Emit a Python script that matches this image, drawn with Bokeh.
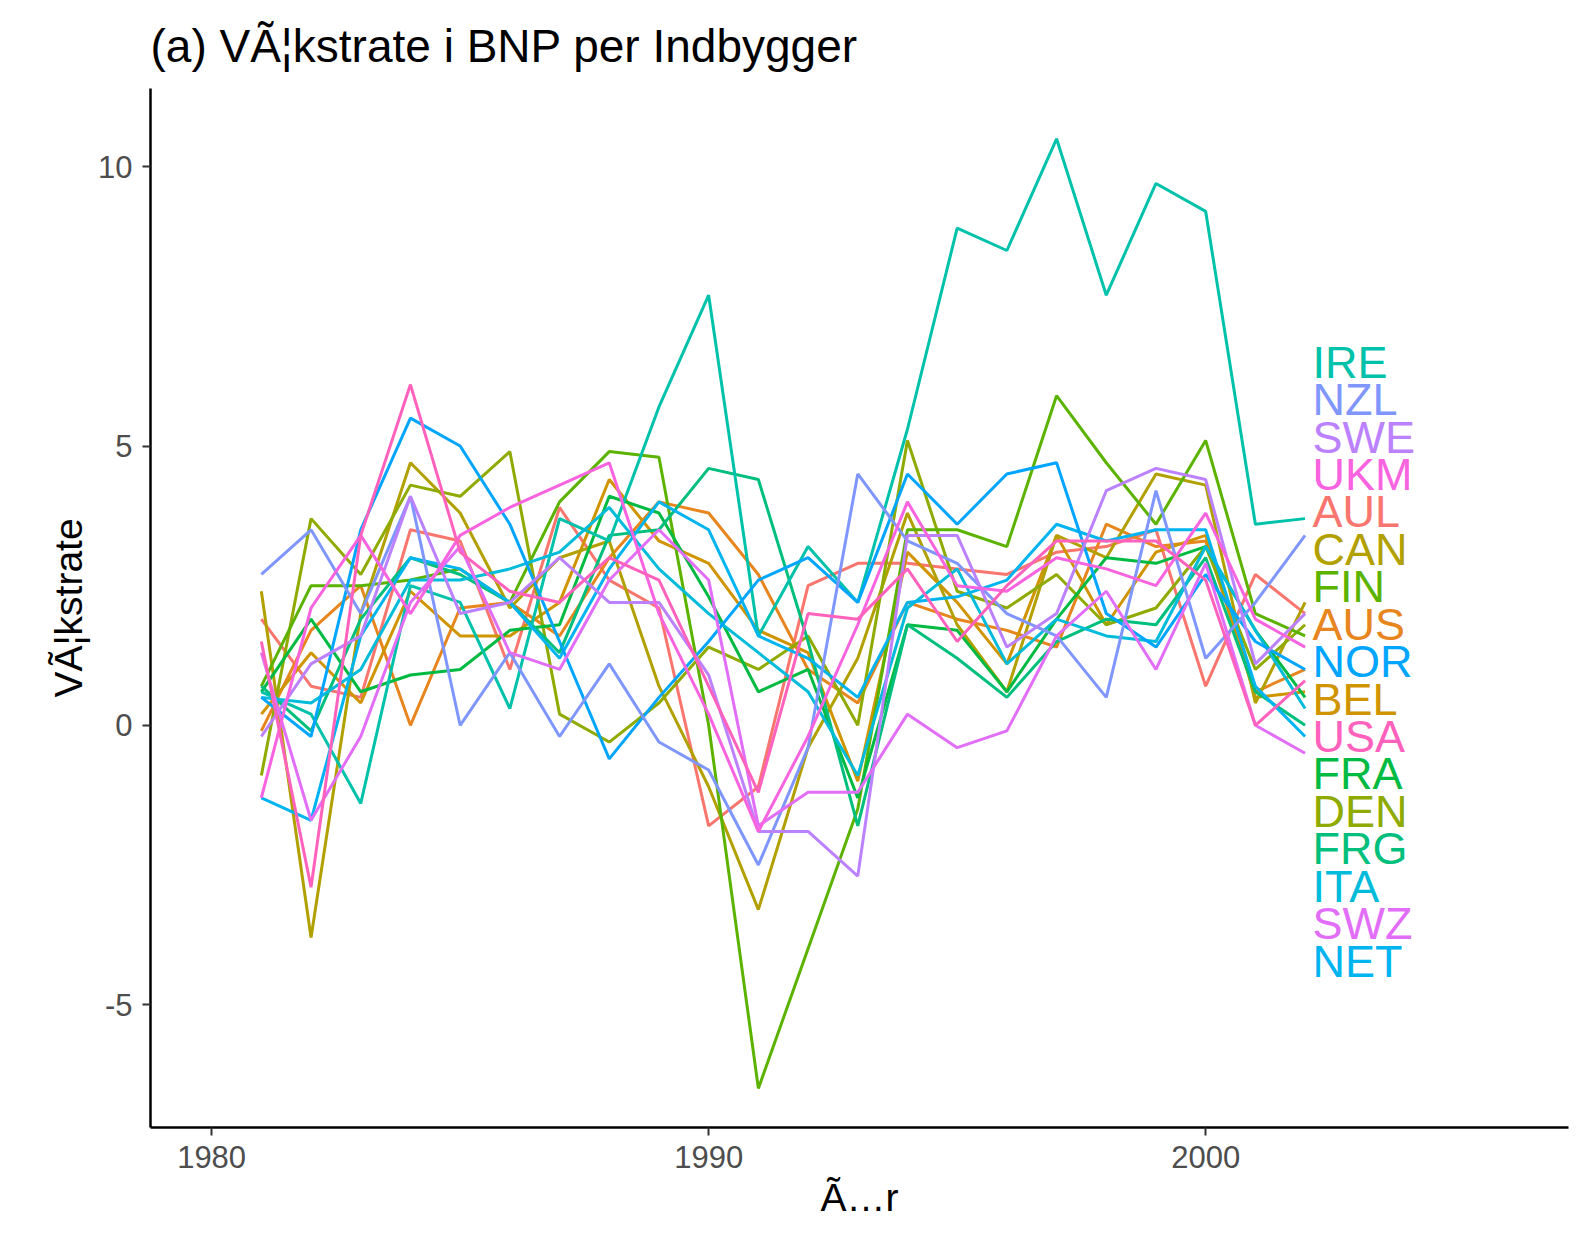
from bokeh.plotting import figure
from bokeh.embed import file_html
from bokeh.resources import INLINE
from bokeh.models import Range1d, FixedTicker, CustomJSTickFormatter
from bokeh.core.properties import value

years = list(range(1981, 2003))

series = {
    "AUL": [1.9, 0.7, 0.5, 3.5, 3.3, 1.0, 3.9, 2.6, 2.1, -1.8, -1.1, 2.5, 2.9, 2.9, 2.8, 2.7, 3.1, 3.2, 3.5, 0.7, 2.7, 2.0],
    "AUS": [-0.1, 1.7, 2.5, 0.0, 2.1, 2.2, 1.6, 3.0, 4.0, 3.8, 2.7, 1.0, 0.4, 2.2, 1.9, 1.7, 1.4, 3.6, 3.2, 3.3, 0.6, 1.0],
    "BEL": [0.2, 1.3, 0.4, 2.4, 1.6, 1.6, 2.2, 4.4, 3.3, 2.9, 1.7, 1.3, -1.0, 3.1, 2.2, 1.1, 3.4, 1.8, 3.1, 3.4, 0.5, 0.6],
    "CAN": [2.4, -3.8, 2.0, 4.7, 3.8, 2.1, 3.0, 3.3, 0.7, -1.1, -3.3, -0.4, 1.2, 3.8, 1.8, 0.6, 3.4, 3.0, 4.5, 4.3, 0.4, 2.2],
    "DEN": [-0.9, 3.7, 2.7, 4.3, 4.1, 4.9, 0.2, -0.3, 0.4, 1.4, 1.0, 1.6, 0.0, 5.1, 2.4, 2.1, 2.7, 1.8, 2.1, 3.2, 1.0, 1.8],
    "FIN": [0.7, 2.5, 2.5, 2.6, 2.8, 2.2, 4.0, 4.9, 4.8, 0.0, -6.5, -4.0, -1.5, 3.5, 3.5, 3.2, 5.9, 4.7, 3.6, 5.1, 2.0, 1.6],
    "FRA": [0.6, 1.9, 0.6, 0.9, 1.0, 1.7, 1.8, 4.1, 3.8, 2.3, 0.6, 1.0, -1.3, 1.8, 1.7, 0.6, 1.9, 3.0, 2.9, 3.2, 1.7, 0.5],
    "FRG": [0.7, -0.1, 1.9, 3.0, 2.7, 2.2, 1.3, 3.4, 3.5, 4.6, 4.4, 1.5, -1.8, 1.8, 1.2, 0.5, 1.5, 1.9, 1.8, 3.0, 0.6, 0.0],
    "IRE": [0.6, 0.2, -1.4, 2.5, 2.2, 0.3, 3.7, 3.3, 5.7, 7.7, 1.6, 3.2, 2.2, 5.3, 8.9, 8.5, 10.5, 7.7, 9.7, 9.2, 3.6, 3.7],
    "ITA": [0.5, 0.4, 1.0, 2.6, 2.6, 2.8, 3.1, 3.9, 2.8, 2.0, 1.3, 0.6, -0.9, 2.1, 2.8, 1.1, 1.9, 1.6, 1.5, 3.2, 1.7, 0.3],
    "NET": [-1.3, -1.7, 1.6, 3.0, 2.8, 2.2, 1.2, 2.8, 4.0, 3.5, 1.6, 1.2, 0.5, 2.2, 2.3, 2.6, 3.6, 3.3, 3.5, 3.5, 0.7, -0.2],
    "NOR": [0.5, -0.2, 3.5, 5.5, 5.0, 3.6, 1.5, -0.6, 0.5, 1.5, 2.6, 3.0, 2.2, 4.5, 3.6, 4.5, 4.7, 2.0, 1.4, 2.7, 1.5, 1.0],
    "NZL": [2.7, 3.5, 2.0, 4.1, 0.0, 1.3, -0.2, 1.1, -0.3, -0.8, -2.5, -0.4, 4.5, 3.3, 2.9, 2.0, 1.6, 0.5, 4.2, 1.2, 2.2, 3.4],
    "SWE": [-0.2, 1.1, 1.6, 4.1, 2.0, 2.2, 3.0, 2.2, 2.2, 0.9, -1.9, -1.9, -2.7, 3.4, 3.4, 1.4, 2.0, 4.2, 4.6, 4.4, 1.1, 2.0],
    "SWZ": [1.3, -1.7, -0.2, 2.2, 3.2, 1.3, 1.0, 2.6, 3.5, 2.6, -1.8, -1.2, -1.2, 0.2, -0.4, -0.1, 1.6, 2.4, 1.0, 2.9, 0.0, -0.5],
    "UKM": [-1.3, 2.1, 3.4, 2.0, 3.4, 3.9, 4.3, 4.7, 2.0, 0.2, -1.9, -0.2, 1.8, 4.0, 2.5, 2.4, 3.0, 2.8, 2.5, 3.8, 1.9, 1.4],
    "USA": [1.5, -2.9, 3.4, 6.1, 3.1, 2.4, 2.2, 3.0, 2.6, 0.7, -1.2, 2.0, 1.9, 2.8, 1.5, 2.5, 3.3, 3.3, 3.3, 2.6, 0.0, 0.8],
}

colors = {
    "AUL": "#F8766D", "AUS": "#E7851E", "BEL": "#D09400", "CAN": "#B2A000",
    "DEN": "#8FAA00", "FIN": "#5BB300", "FRA": "#00BA42", "FRG": "#00BF7D",
    "IRE": "#00C1AA", "ITA": "#00BBDA", "NET": "#00B4F0", "NOR": "#00A5FF",
    "NZL": "#7F96FF", "SWE": "#BC81FF", "SWZ": "#E26EF7", "UKM": "#F863DF",
    "USA": "#FF62BC",
}

label_order = ["IRE", "NZL", "SWE", "UKM", "AUL", "CAN", "FIN", "AUS", "NOR",
               "BEL", "USA", "FRA", "DEN", "FRG", "ITA", "SWZ", "NET"]

p = figure(width=1574, height=1244, output_backend="svg", toolbar_location=None,
           x_range=Range1d(1978.77, 2007.3), y_range=Range1d(-7.2, 11.4),
           min_border_left=150, min_border_right=6, min_border_bottom=117,
           title="(a) VÃ¦kstrate i BNP per Indbygger",
           x_axis_label="Ã…r", y_axis_label="VÃ¦kstrate")

p.title.text_font = "Liberation Sans"
p.title.text_font_size = "46px"
p.title.text_font_style = "normal"
p.title.text_color = "black"
p.title.offset = 0
p.title.standoff = 34

for name, vals in series.items():
    p.line(years, vals, color=colors[name], line_width=3)

top = 6.5
step = 0.67
for i, name in enumerate(label_order):
    p.text([2002.15], [top - i * step], text=[name], text_color=colors[name],
           text_font=value("Liberation Sans"), text_font_size="45px",
           text_baseline="middle", text_align="left")

p.xgrid.visible = False
p.ygrid.visible = False
p.outline_line_color = None
p.xaxis.ticker = FixedTicker(ticks=[1980, 1990, 2000])
p.yaxis.ticker = FixedTicker(ticks=[-5, 0, 5, 10])
p.yaxis.formatter = CustomJSTickFormatter(code="return tick.toString();")
p.xaxis.minor_tick_line_color = None
p.yaxis.minor_tick_line_color = None
for ax in (p.xaxis, p.yaxis):
    ax.axis_line_color = "black"
    ax.axis_line_width = 2.5
    ax.major_tick_line_color = "#333333"
    ax.major_tick_line_width = 2
    ax.major_tick_out = 8
    ax.major_tick_in = 0
    ax.major_label_standoff = 10
    ax.major_label_text_font = "Liberation Sans"
    ax.major_label_text_font_size = "31px"
    ax.major_label_text_color = "#4D4D4D"
    ax.axis_label_text_font = "Liberation Sans"
    ax.axis_label_text_font_size = "39px"
    ax.axis_label_text_font_style = "normal"
    ax.axis_label_text_color = "black"

open("out.html", "w").write(file_html(p, INLINE))
